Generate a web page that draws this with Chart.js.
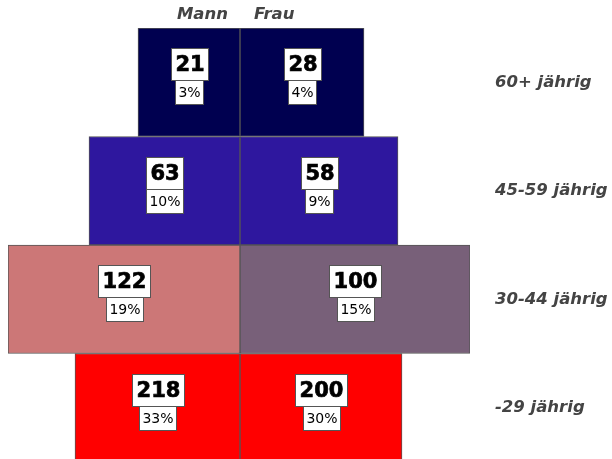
<!DOCTYPE html>
<html>
<head>
<meta charset="utf-8">
<script src="https://cdn.jsdelivr.net/npm/chart.js@4/dist/chart.umd.min.js"></script>
<style>
html, body { margin: 0; padding: 0; background: #fff; overflow: hidden; }
#wrap { width: 612px; height: 462px; }
</style>
</head>
<body>
<div id="wrap"><canvas id="pyramid"></canvas></div>
<script>
const ageGroups = ['60+ jährig', '45-59 jährig', '30-44 jährig', '-29 jährig'];
const mannCount = [21, 63, 122, 218];
const frauCount = [28, 58, 100, 200];
const mannPct = ['3%', '10%', '19%', '33%'];
const frauPct = ['4%', '9%', '15%', '30%'];
// bar length as drawn in the original (it is not proportional to the counts)
const mannBar = [102, 151, 232, 165];
const frauBar = [124, 158, 230, 162];
const mannColors = ['#000050', '#2e179e', '#cc7777', '#ff0000'];
const frauColors = ['#000050', '#2e179e', '#786079', '#ff0000'];


function drawBox(ctx, text, font, cx, top, h, pad, heavy) {
    ctx.font = font;
    const w = Math.round(ctx.measureText(text).width + pad * 2);
    const x = Math.round(cx - w / 2) + 0.5;
    const y = Math.round(top) + 0.5;
    ctx.fillStyle = '#fff';
    ctx.fillRect(x, y, w, h);
    ctx.strokeStyle = '#555';
    ctx.lineWidth = 1;
    ctx.strokeRect(x, y, w, h);
    ctx.fillStyle = '#000';
    ctx.textAlign = 'center';
    ctx.textBaseline = 'middle';
    ctx.fillText(text, x + w / 2, y + h / 2 + 1);
    if (heavy) {
        // the original face is a little heavier than DejaVu Bold
        ctx.strokeStyle = '#000';
        ctx.lineWidth = 0.7;
        ctx.strokeText(text, x + w / 2, y + h / 2 + 1);
    }
}


const boxLabels = {
    id: 'boxLabels',
    afterDatasetsDraw(chart) {
        const ctx = chart.ctx;
        ctx.save();

        chart.data.datasets.forEach((ds, i) => {
            chart.getDatasetMeta(i).data.forEach((bar, j) => {
                const cx = (bar.x + bar.base) / 2;
                drawBox(ctx, String(ds.counts[j]), 'bold 21px "DejaVu Sans"', cx, bar.y - 34, 32, 4, true);
                drawBox(ctx, ds.pcts[j], '14px "DejaVu Sans"', cx, bar.y - 2, 24, 3, false);
            });
        });

        const yScale = chart.scales.y;
        const mid = chart.scales.x.getPixelForValue(0);
        ctx.fillStyle = '#444';
        ctx.textBaseline = 'middle';
        ctx.font = 'italic bold 16.5px "DejaVu Sans"';
        ctx.textAlign = 'left';
        ageGroups.forEach((g, j) => {
            ctx.fillText(g, 495, yScale.getPixelForValue(j));
        });

        ctx.textAlign = 'right';
        ctx.fillText('Mann', mid - 12, 15);
        ctx.textAlign = 'left';
        ctx.fillText('Frau', mid + 14, 15);

        ctx.restore();
    }
};


const ctx = document.getElementById('pyramid').getContext('2d');
new Chart(ctx, {
    type: 'bar',
    data: {
        labels: ageGroups,
        datasets: [{
            label: 'Mann',
            data: mannBar.map(v => -v),
            counts: mannCount,
            pcts: mannPct,
            backgroundColor: mannColors
        }, {
            label: 'Frau',
            data: frauBar,
            counts: frauCount,
            pcts: frauPct,
            backgroundColor: frauColors
        }].map(ds => Object.assign(ds, {
            borderColor: '#555',
            borderWidth: 1,
            borderSkipped: false,
            barPercentage: 1,
            categoryPercentage: 1
        }))
    },
    options: {
        indexAxis: 'y',
        responsive: true,
        maintainAspectRatio: false,
        animation: false,
        layout: {padding: {left: 8, right: 142, top: 28, bottom: 0}},
        scales: {
            x: {stacked: true, min: -232, max: 230, display: false},
            y: {stacked: true, display: false}
        },
        plugins: {
            legend: {display: false},
            tooltip: {enabled: false}
        }
    },
    plugins: [boxLabels]
});
</script>
</body>
</html>
